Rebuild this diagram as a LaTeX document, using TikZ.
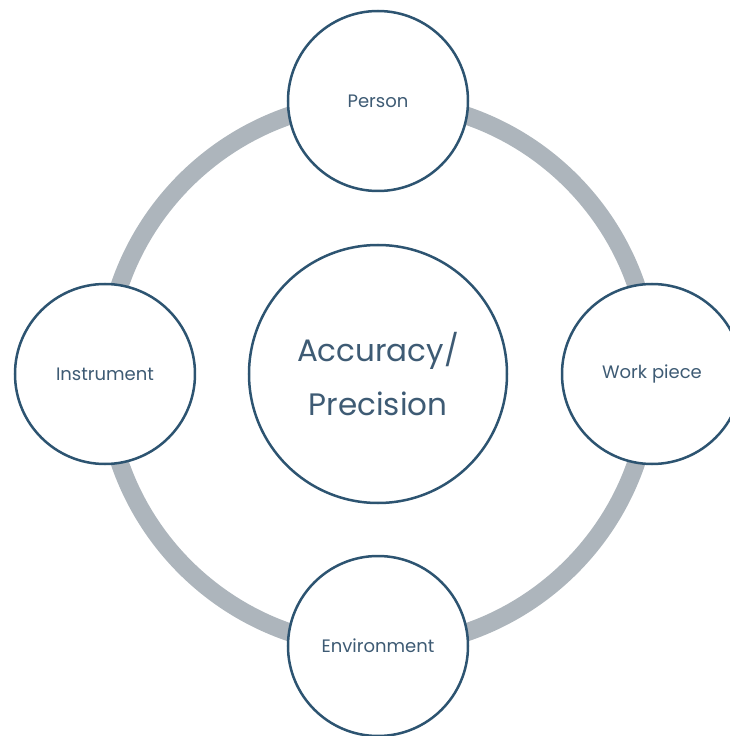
\documentclass[tikz,border=0pt]{standalone}
\usepackage{fontspec}
\setmainfont{Poppins}
\definecolor{ringgray}{HTML}{ADB5BC}
\definecolor{rimblue}{HTML}{2D5471}
\definecolor{labelblue}{HTML}{3E5B74}

\begin{document}
\begin{tikzpicture}[x=1pt,y=1pt,
  factor/.style={circle,draw=rimblue,line width=2.5pt,fill=white,
    minimum size=180pt,inner sep=0pt,text=labelblue,font=\fontsize{18}{21}\selectfont},
  core/.style={factor,minimum size=258pt,align=center,font=\fontsize{31}{54}\selectfont}]
  \useasboundingbox (-378,-362) rectangle (352,374);
  % grey ring behind the four factors
  \draw[ringgray,line width=18pt] (0,0) circle (273);
  \node[core] (acc) at (0,0) {Accuracy/\\Precision};
  \node[factor] (person) at (0,273) {Person};
  \node[factor] (work) at (274,0) {Work piece};
  \node[factor] (env) at (0,-272) {Environment};
  \node[factor] (instr) at (-273,0) {Instrument};
\end{tikzpicture}
\end{document}
